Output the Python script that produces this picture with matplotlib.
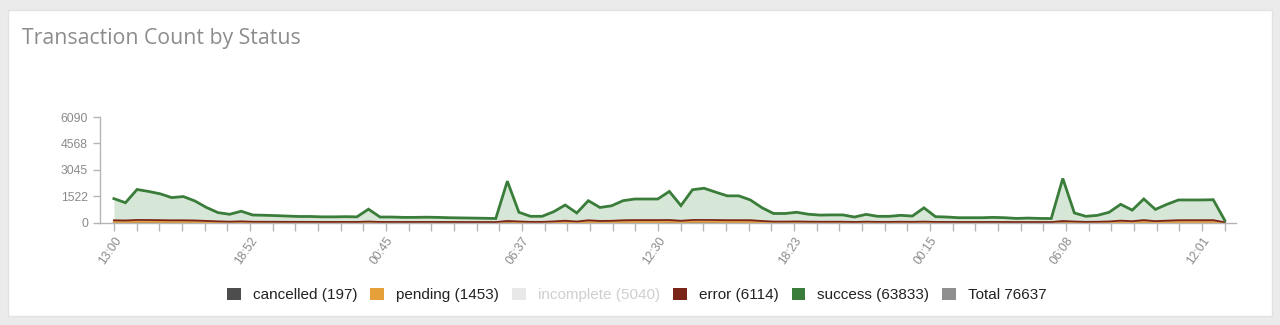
import numpy as np
import matplotlib.pyplot as plt
from matplotlib.patches import Patch, Rectangle

step_minutes = 30

success = [1250, 1025, 1760, 1650, 1520, 1310, 1370, 1125, 775, 505,
           424, 584, 389, 375, 357, 334, 311, 311, 293, 293,
           302, 293, 714, 284, 284, 265, 265, 274, 265, 247,
           238, 229, 220, 206, 2295, 531, 320, 320, 558, 906,
           494, 1130, 778, 865, 1130, 1217, 1217, 1217, 1650, 874,
           1746, 1830, 1610, 1405, 1405, 1168, 769, 467, 467, 531,
           430, 384, 393, 393, 284, 421, 320, 320, 371, 334,
           795, 302, 284, 247, 247, 247, 265, 247, 210, 229,
           210, 206, 2454, 494, 320, 371, 531, 942, 640, 1221,
           677, 942, 1168, 1168, 1168, 1180, 106]
error = [100, 95, 110, 110, 105, 100, 100, 95, 75, 55,
         40, 54, 36, 35, 33, 31, 29, 29, 27, 27,
         28, 27, 40, 26, 26, 25, 25, 26, 25, 23,
         22, 21, 20, 19, 45, 49, 30, 30, 52, 84,
         46, 105, 72, 80, 105, 113, 113, 113, 110, 81,
         110, 110, 110, 105, 105, 108, 71, 43, 43, 49,
         40, 36, 37, 37, 26, 39, 30, 30, 35, 31,
         35, 28, 26, 23, 23, 23, 25, 23, 20, 21,
         20, 19, 40, 46, 30, 35, 49, 88, 60, 113,
         63, 88, 108, 108, 108, 110, 10]
pending = [25, 20, 32, 30, 28, 24, 25, 21, 15, 10,
           8, 11, 7, 7, 7, 6, 6, 6, 5, 5,
           6, 5, 13, 5, 5, 5, 5, 5, 5, 5,
           4, 4, 4, 4, 40, 10, 6, 6, 10, 17,
           9, 21, 15, 16, 21, 23, 23, 23, 30, 17,
           32, 33, 29, 26, 26, 22, 14, 9, 9, 10,
           8, 7, 7, 7, 5, 8, 6, 6, 7, 6,
           14, 6, 5, 5, 5, 5, 5, 5, 4, 4,
           4, 4, 43, 9, 6, 7, 10, 18, 12, 23,
           13, 18, 22, 22, 22, 22, 2]
cancelled = [3, 2, 4, 3, 3, 3, 3, 2, 2, 1,
             1, 1, 1, 1, 1, 1, 1, 1, 1, 1,
             1, 1, 2, 1, 1, 1, 1, 1, 1, 1,
             1, 1, 1, 1, 5, 1, 1, 1, 1, 2,
             1, 3, 2, 2, 3, 3, 3, 3, 4, 2,
             4, 4, 4, 3, 3, 3, 2, 1, 1, 1,
             1, 1, 1, 1, 1, 1, 1, 1, 1, 1,
             2, 1, 1, 1, 1, 1, 1, 1, 1, 1,
             1, 1, 5, 1, 1, 1, 1, 2, 2, 3,
             2, 2, 3, 3, 3, 3, 0]

y_ticks = [0, 1522, 3045, 4568, 6090]
x_tick_labels = ["13:00", "18:52", "00:45", "06:37", "12:30",
                 "18:23", "00:15", "06:08", "12:01"]

legend_labels = ["cancelled (197)", "pending (1453)", "incomplete (5040)",
                 "error (6114)", "success (63833)", "Total 76637"]
legend_colors = ["#4d4d4d", "#e5a03a", "#e8e8e8", "#7b2418", "#3a7d3a", "#8f8f8f"]
legend_text_colors = ["#222222", "#222222", "#cfcfcf", "#222222", "#222222", "#222222"]

# minutes since the first sample
x = np.arange(len(success)) * step_minutes

# label positions from the clock times, rolling over midnight
label_pos = []
day = 0
prev = None
for lab in x_tick_labels:
    h, m = map(int, lab.split(":"))
    t = h * 60 + m
    if prev is not None and t < prev:
        day += 1
    prev = t
    label_pos.append(day * 1440 + t - (13 * 60))
label_pos = np.array(label_pos, dtype=float)
tick_step = (label_pos[-1] - label_pos[0]) / ((len(label_pos) - 1) * 6)
minor_pos = np.arange(0, x[-1] + 1, tick_step)

fig = plt.figure(figsize=(12.8, 3.25), dpi=100, facecolor="#ebebeb")
fig.patches.append(Rectangle((8 / 1280, 9 / 325), 1264 / 1280, 306 / 325,
                             transform=fig.transFigure, facecolor="white",
                             edgecolor="#e2e2e2", linewidth=1, zorder=-10))

fig.text(22 / 1280, 1 - 44 / 325, "Transaction Count by Status",
         family="Open Sans", fontsize=15.3, color="#8c8c8c", va="baseline")

ax = fig.add_axes([100 / 1280, 1 - 222.5 / 325, 1136 / 1280, 105.5 / 325])
ax.set_facecolor("none")

layers = [cancelled, pending, error, success]
colors = ["#4d4d4d", "#e5a03a", "#7b2418", "#3a7d3a"]
fills = ["#d0d0d0", "#f5e1c0", "#d9bcb8", "#d7e7d7"]
base = np.zeros(len(x))
for vals, c, fc in zip(layers, colors, fills):
    top = base + np.array(vals)
    ax.fill_between(x, base, top, color=fc, linewidth=0)
    base = top
base = np.zeros(len(x))
for vals, c in zip(layers, colors):
    top = base + np.array(vals)
    lw = 2.0 if c == "#3a7d3a" else 1.3
    ax.plot(x, top, color=c, linewidth=lw, solid_joinstyle="miter")
    base = top

ax.set_xlim(-36, 2909)
ax.set_ylim(0, 6090)
ax.set_yticks(y_ticks)
ax.set_yticklabels([str(v) for v in y_ticks])
ax.set_xticks(minor_pos)
ax.set_xticklabels([x_tick_labels[i // 6] if i % 6 == 0 else "" for i in range(len(minor_pos))],
                   rotation=55, ha="right", va="top", rotation_mode="anchor")

for s in ["top", "right"]:
    ax.spines[s].set_visible(False)
for s in ["left", "bottom"]:
    ax.spines[s].set_color("#b5b5b5")
    ax.spines[s].set_linewidth(1)
ax.tick_params(axis="both", colors="#b5b5b5", labelcolor="#8a8a8a",
               labelsize=8.8, length=5, width=1)
ax.tick_params(axis="x", length=6, pad=3)
for lab in ax.get_xticklabels() + ax.get_yticklabels():
    lab.set_family("Liberation Sans")

handles = [Patch(facecolor=c, edgecolor="none") for c in legend_colors]
leg = fig.legend(handles, legend_labels, loc="center", ncol=6,
                 bbox_to_anchor=(637 / 1280, 1 - 295 / 325), frameon=False,
                 handlelength=0.9, handleheight=0.9, handletextpad=0.8,
                 columnspacing=0.85, prop={"family": "Liberation Sans", "size": 10.95})
for t, c in zip(leg.get_texts(), legend_text_colors):
    t.set_color(c)

fig.savefig("out.png", dpi=100, facecolor=fig.get_facecolor())
